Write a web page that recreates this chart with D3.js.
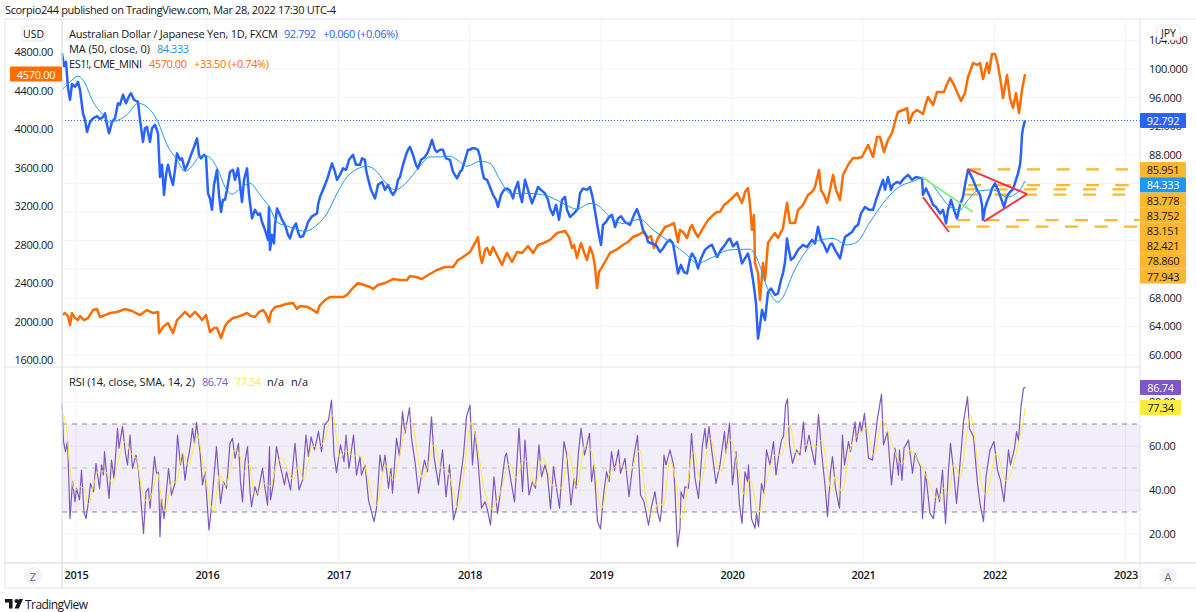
<!DOCTYPE html>
<html>
<head>
<meta charset="utf-8">
<title>AUD/JPY vs ES1!</title>
<script src="https://cdn.jsdelivr.net/npm/d3@7"></script>
<style>
    body { margin: 0; background: #fff; }
    text { font-family: "Open Sans", sans-serif; font-size: 11px; fill: #131722; }
</style>
</head>
<body>
<svg id="chart" width="1196" height="612"></svg>
<script>
// every series is [bar index, value], daily bars counted from the left edge of the chart
const audjpy = [[0,102.2],[4,100.4],[8,101],[12,97.3],[16,95.7],[20,97.9],[26,97.5],[32,98.2],[36,97.1],[42,93.8],[46,92.9],[50,91.2],[56,92.6],[62,93.1],[70,93.4],[76,93],[82,93.3],[86,93.8],[90,92.2],[94,91],[100,92.6],[106,93.1],[112,95.2],[116,95],[122,96.4],[128,95.2],[134,96.2],[138,96.6],[144,95.7],[152,95.4],[156,92.9],[162,89.8],[166,91.7],[170,91.9],[176,89.8],[180,91.7],[186,92.2],[192,91],[196,84.9],[200,86.6],[204,82.4],[208,85.2],[212,86.6],[218,84.7],[222,83.8],[226,85.9],[230,88.2],[236,87.3],[240,87.5],[246,85.9],[252,86.8],[258,88],[262,88.7],[270,90.3],[274,88],[278,87.5],[284,88],[288,87.7],[292,82.6],[296,81.9],[300,80.3],[304,83.8],[310,85.9],[314,82.4],[318,80],[322,81.7],[326,81.7],[330,83.1],[336,85.6],[342,85.9],[346,84.5],[352,86.1],[356,83.8],[360,81.4],[364,84.5],[370,86.1],[374,82.4],[380,79.1],[386,80.3],[392,79.6],[396,79.8],[400,78.6],[406,77.5],[412,76.1],[414,80.7],[416,74.7],[420,76.8],[424,75.6],[426,78.2],[430,80.5],[436,79.6],[440,78.9],[446,78.2],[452,76.8],[456,76.3],[462,77.7],[468,78.4],[472,77.2],[476,76.5],[482,76.6],[488,77.7],[492,78.6],[500,79.4],[510,79.8],[512,81],[516,82.1],[522,83.1],[530,84.5],[536,85.9],[540,86.8],[546,85.6],[550,84.5],[556,85.2],[562,86.1],[568,85.9],[574,87.3],[582,88],[588,86.6],[596,86.6],[600,87.5],[606,87.3],[608,85.9],[612,84.7],[618,83.1],[626,81.9],[632,83.8],[640,84.2],[646,83.1],[652,83.8],[658,82.8],[662,82.4],[668,83.1],[672,84.5],[676,84.9],[682,86.6],[688,88],[692,88.7],[696,89.1],[702,88],[708,86.6],[712,86.1],[718,87.3],[726,87.7],[732,88.4],[740,90.1],[746,88.7],[750,88.4],[756,88.7],[762,88.7],[768,87.5],[776,87.3],[782,85.6],[790,84.7],[796,85.6],[800,85.9],[806,87.3],[812,88.7],[816,88.7],[820,88.9],[826,88.9],[832,88.7],[836,87.7],[840,85.9],[844,84.7],[850,84.5],[856,83.5],[862,82.4],[868,81.7],[872,80.7],[878,82.4],[884,83.1],[890,83.3],[896,83],[902,81.9],[906,83.1],[912,84.2],[916,82.4],[920,81.4],[926,84.5],[932,83.1],[940,81.2],[946,82.3],[952,83.5],[958,83.1],[966,82.6],[972,81.7],[976,80.5],[982,79.6],[988,81],[994,78.9],[1000,81.7],[1006,82.1],[1010,80.3],[1016,79.3],[1024,79.8],[1032,80.5],[1036,82.6],[1042,83.3],[1050,83.1],[1056,83.5],[1060,82.4],[1064,81],[1070,78.4],[1074,76.8],[1078,75.4],[1082,78.2],[1088,78.6],[1094,79.3],[1100,79.6],[1106,77.9],[1112,79.1],[1118,79.4],[1126,78.6],[1136,78.2],[1144,79.6],[1150,80.4],[1156,79.2],[1162,77.5],[1168,76.8],[1172,75.8],[1180,75.6],[1188,75.4],[1196,74.4],[1202,74.9],[1210,75.8],[1216,76.1],[1222,75.6],[1226,74],[1232,71.4],[1238,72.6],[1244,71.6],[1250,71.4],[1256,73.5],[1260,74.2],[1266,73.5],[1272,72.1],[1278,73.5],[1286,74.7],[1294,75.2],[1300,75.4],[1306,74.4],[1310,73.7],[1318,74.7],[1326,75.4],[1332,76.1],[1336,76.3],[1342,75.2],[1350,75.8],[1354,74.7],[1360,72.8],[1366,73.5],[1372,74.2],[1376,73],[1382,70.5],[1386,68.4],[1388,67.2],[1392,62.3],[1396,64.1],[1400,66.3],[1406,64.9],[1412,68.8],[1418,69.3],[1426,68.4],[1432,68.6],[1438,70.5],[1442,71.4],[1446,73],[1450,76.3],[1454,74.6],[1458,73.3],[1464,73.7],[1472,74.7],[1482,75.4],[1490,75.1],[1500,76.1],[1506,75.6],[1512,77.9],[1518,76.1],[1524,75.4],[1530,74.4],[1536,75.4],[1540,75.6],[1546,74.7],[1552,74],[1556,73.5],[1562,75.4],[1566,76.5],[1572,76.8],[1580,77.2],[1586,77.9],[1592,78.2],[1598,79.8],[1606,80.7],[1614,80.3],[1622,80.3],[1628,81.7],[1636,83.3],[1642,84.5],[1646,83.1],[1652,84.9],[1658,83.1],[1662,83.8],[1670,84.2],[1676,84],[1684,84.7],[1692,85.2],[1700,84.5],[1708,84.9],[1720,84.7],[1722,82.4],[1728,83.3],[1736,82.1],[1742,81],[1748,80.7],[1756,79.8],[1762,80.3],[1768,78.4],[1772,80.3],[1778,81.7],[1784,80.3],[1790,79.1],[1796,81],[1802,82.1],[1806,83.8],[1812,85.9],[1816,85.4],[1822,84.5],[1830,83.1],[1836,82.4],[1840,81],[1842,78.9],[1846,80.5],[1850,81.4],[1856,82.4],[1860,83.3],[1866,84],[1872,83.1],[1878,81.9],[1884,80.7],[1890,82.2],[1896,82.8],[1902,83.2],[1908,84.5],[1912,85.4],[1916,86.6],[1918,88.2],[1920,90.8],[1922,91.7],[1926,92.792]];

const ma50 = [[0,97.1],[16,98.2],[32,99],[46,98],[60,95.7],[82,93.6],[96,92.6],[130,93.6],[152,95.2],[170,94.7],[192,92.6],[210,89.4],[230,87.3],[246,85.7],[262,86.6],[276,87.8],[290,87.8],[312,85.9],[326,83.5],[340,82.5],[360,83.5],[376,84],[396,82.4],[416,80.5],[430,78.6],[456,77.9],[486,77.3],[510,78.2],[530,79.8],[550,82.6],[570,84.9],[590,86],[610,86.4],[626,85.9],[646,84.2],[666,83.1],[690,84.2],[712,86.1],[736,87.7],[756,87.7],[776,87.8],[790,87.3],[810,86.4],[836,87.1],[856,86.8],[876,84.5],[896,82.6],[936,82.6],[976,82.1],[1002,81.2],[1030,80.4],[1056,81.2],[1070,81],[1096,79.3],[1122,78.4],[1156,79],[1182,77.5],[1216,75.8],[1250,74],[1270,72.8],[1296,73.5],[1336,74.7],[1376,74.8],[1390,73.5],[1410,69.5],[1432,67.4],[1442,68.1],[1462,71.4],[1490,74.7],[1516,76.1],[1542,76.3],[1570,75.4],[1590,75.8],[1616,78.6],[1642,81.2],[1670,83.3],[1702,84.3],[1720,84.7],[1736,84.2],[1756,82.4],[1776,80.7],[1796,80.3],[1812,81.7],[1830,82.9],[1862,83.1],[1890,82.1],[1912,82.8],[1926,84.333]];

const es1 = [[0,2067],[6,2088],[12,2057],[16,1964],[20,2088],[26,2036],[32,2015],[36,2057],[44,2015],[52,2036],[62,2119],[70,2130],[76,2047],[86,2067],[96,2088],[110,2099],[126,2130],[140,2109],[156,2067],[170,2119],[182,2088],[192,2099],[194,1880],[202,1943],[212,1984],[222,1880],[230,2015],[238,2057],[246,2099],[256,2047],[266,2099],[274,2057],[280,2015],[288,2067],[296,1891],[304,1932],[310,1932],[318,1828],[326,1953],[332,1995],[342,2036],[350,2047],[360,2067],[370,2088],[378,2057],[386,2047],[394,2099],[402,2119],[408,2078],[414,1995],[418,2099],[426,2150],[436,2161],[448,2182],[462,2192],[470,2130],[476,2161],[492,2150],[502,2119],[510,2088],[516,2171],[526,2223],[536,2254],[550,2254],[562,2254],[570,2275],[580,2338],[592,2400],[604,2379],[616,2358],[622,2338],[632,2379],[646,2400],[662,2441],[676,2431],[690,2431],[696,2473],[708,2462],[720,2441],[732,2483],[750,2535],[766,2566],[782,2566],[792,2639],[802,2670],[816,2722],[826,2816],[832,2878],[836,2691],[840,2608],[846,2743],[850,2764],[856,2691],[862,2774],[870,2691],[880,2587],[886,2670],[890,2712],[900,2618],[910,2722],[920,2712],[932,2784],[942,2712],[952,2795],[964,2816],[976,2847],[990,2919],[998,2930],[1006,2940],[1014,2878],[1020,2764],[1024,2795],[1030,2660],[1038,2816],[1044,2722],[1050,2639],[1056,2774],[1062,2691],[1066,2566],[1070,2348],[1074,2514],[1080,2566],[1088,2639],[1096,2712],[1108,2743],[1122,2795],[1132,2826],[1142,2878],[1152,2899],[1162,2930],[1172,2867],[1178,2888],[1184,2764],[1192,2867],[1200,2930],[1206,2982],[1216,3002],[1224,3023],[1232,2826],[1236,2951],[1242,2930],[1250,2867],[1256,2971],[1260,3002],[1266,2930],[1272,2878],[1282,2971],[1292,3054],[1302,3106],[1310,3138],[1316,3138],[1324,3210],[1332,3242],[1342,3293],[1350,3335],[1360,3231],[1366,3345],[1372,3387],[1376,3210],[1380,2951],[1384,3106],[1386,2608],[1392,2504],[1396,2223],[1402,2608],[1406,2431],[1412,2816],[1418,2867],[1426,2919],[1432,2867],[1442,2971],[1446,3106],[1450,3231],[1456,3023],[1466,3023],[1472,3158],[1482,3210],[1492,3314],[1500,3345],[1506,3397],[1514,3574],[1518,3366],[1524,3314],[1530,3231],[1536,3366],[1542,3522],[1548,3366],[1556,3262],[1562,3522],[1572,3626],[1582,3699],[1592,3699],[1600,3709],[1612,3834],[1622,3709],[1630,3917],[1636,3917],[1644,3761],[1652,3886],[1660,3958],[1666,4073],[1672,4177],[1682,4197],[1690,4218],[1694,4062],[1702,4166],[1710,4197],[1722,4156],[1728,4270],[1732,4332],[1742,4249],[1750,4384],[1764,4384],[1770,4468],[1776,4530],[1784,4457],[1790,4384],[1798,4291],[1806,4374],[1812,4540],[1822,4686],[1830,4665],[1836,4686],[1842,4519],[1850,4686],[1854,4582],[1860,4779],[1866,4779],[1872,4665],[1880,4405],[1882,4322],[1890,4561],[1896,4322],[1902,4218],[1908,4374],[1914,4166],[1920,4405],[1926,4570]];

const rsi = [[0,79.4],[3,62],[7,57.4],[11,62],[14,42],[16,27],[21,43.8],[26,34.7],[29,40.8],[35,35.5],[39,49],[44,30],[48,27],[53,34.7],[57,43],[63,39.2],[68,52],[75,40.8],[79,51.4],[83,46.8],[85,57.4],[94,36.2],[99,53.6],[104,45.3],[111,68],[114,59],[121,68.8],[127,56.7],[131,51.4],[136,65],[141,49.8],[148,55.9],[153,49],[156,40.8],[163,20.3],[168,39.2],[173,40.8],[176,31.7],[185,55.2],[189,47.6],[193,48],[196,18.8],[199,36.2],[204,27],[213,49.8],[219,37.7],[223,40.8],[226,43],[231,65],[237,51.4],[241,56.7],[246,44.5],[251,52.9],[256,58.9],[261,68],[265,61.2],[269,70.8],[276,57.4],[281,42.3],[286,48.3],[294,21.8],[298,30.2],[303,43.8],[309,59.7],[317,33.9],[323,43.8],[329,40.8],[336,61.2],[341,63.5],[346,54.4],[353,61.2],[357,43.8],[361,34.7],[366,52.9],[371,59.7],[376,39.2],[379,32.4],[386,41.5],[391,37.7],[401,49.8],[405,42.3],[411,33.2],[415,59.7],[417,35.5],[423,43],[429,59.7],[436,51.4],[445,42.3],[449,48.3],[457,40],[466,61.2],[474,40],[481,44.5],[488,65],[493,55.2],[498,64.2],[505,58.2],[513,66.5],[519,57.4],[525,69.5],[533,71.8],[539,80.9],[544,55.9],[549,48],[557,60.5],[564,52.9],[568,65],[574,49.8],[583,65],[589,46.8],[596,55.2],[599,46.8],[606,51.4],[613,35.5],[624,25.6],[629,31.7],[636,55.9],[641,48.3],[646,55.9],[653,40.8],[658,49.8],[661,38.5],[669,63.5],[675,55.2],[681,75.6],[686,65.8],[695,77.4],[699,63.5],[706,52.9],[713,38.5],[718,45.3],[725,53.6],[731,48.3],[739,73.3],[744,55.2],[753,42.3],[761,58.2],[768,37],[775,51.4],[783,26.4],[789,31.7],[796,43.8],[803,55.9],[809,73.3],[816,78.6],[821,51.4],[826,66.5],[833,50.6],[839,31.7],[846,34.7],[851,30.9],[857,24],[864,46],[871,29.4],[877,39.2],[886,55.2],[889,56.7],[896,46.8],[905,34.7],[914,68],[921,39.2],[926,62.7],[934,37.7],[941,43.8],[947,40.8],[954,60.5],[959,46],[966,51.4],[971,46.8],[977,31.4],[983,50.6],[988,42.3],[995,31.7],[1004,62],[1009,56.7],[1018,33.2],[1024,45.3],[1028,40.8],[1033,57.4],[1038,68],[1045,55.9],[1055,65.8],[1059,43.8],[1064,51.4],[1071,25.6],[1077,22.3],[1083,37.7],[1089,48.3],[1094,43.8],[1099,57.4],[1105,49],[1113,58.2],[1117,47.6],[1126,54.4],[1134,37],[1143,54.4],[1151,64.7],[1157,37.7],[1164,34.7],[1173,24],[1179,32.4],[1186,39.2],[1191,30.2],[1196,25.6],[1199,31],[1204,55.9],[1208,51.4],[1216,58.2],[1223,51.4],[1226,39.2],[1231,14.2],[1236,22.6],[1238,39.2],[1243,36.2],[1246,41.5],[1253,40.8],[1259,65.8],[1266,45.3],[1273,36.2],[1281,60.5],[1286,68],[1289,58.9],[1294,68.8],[1299,58.9],[1308,43],[1316,51.4],[1325,66.5],[1328,56.7],[1335,70.3],[1341,42.3],[1348,57.4],[1355,33.2],[1360,24.8],[1366,48.3],[1371,43.8],[1373,51.4],[1379,27],[1386,22.6],[1389,29.4],[1393,23.3],[1399,43],[1404,38.5],[1409,58.2],[1416,51.4],[1423,62],[1428,46.8],[1433,55.2],[1439,62.7],[1443,64.2],[1447,78.6],[1451,81.4],[1455,60.5],[1461,52.1],[1469,58.2],[1476,55.9],[1483,71],[1487,57.4],[1494,65],[1499,58.9],[1506,51.4],[1513,74.4],[1519,57.4],[1526,42.3],[1531,27.9],[1537,48.3],[1541,55.2],[1547,40.8],[1555,31.7],[1561,65],[1565,51.4],[1573,62],[1577,57.4],[1586,71],[1589,62],[1596,71],[1599,66.5],[1605,74.8],[1613,54.4],[1621,53.6],[1631,72.6],[1639,83.5],[1643,60.5],[1651,66.5],[1659,42.3],[1666,59],[1673,46.8],[1675,58.2],[1680,44.5],[1684,59],[1693,62.7],[1701,47.6],[1706,56.7],[1717,50.6],[1721,27],[1727,48.3],[1736,29.4],[1743,27],[1749,40.8],[1755,34.7],[1761,49],[1767,24.8],[1773,49],[1777,61.2],[1783,49],[1789,33.9],[1799,59.7],[1803,71],[1811,82.4],[1815,68],[1823,64.2],[1831,43],[1836,33.9],[1843,25.6],[1848,46],[1856,58.2],[1864,62],[1871,49],[1877,44.5],[1884,34.7],[1893,58.2],[1897,51.4],[1905,59],[1909,66.5],[1913,62.7],[1918,77.9],[1923,86.2],[1927,86.74]];

const rsiMa = [[0,75.6],[9,68],[16,49.8],[26,40],[36,41.5],[44,40.5],[53,33.5],[63,42.3],[73,48.6],[86,48.6],[101,43],[113,53.6],[126,62],[139,56.2],[149,54.4],[159,40.8],[171,34.4],[181,39.2],[191,47.6],[198,37.7],[206,30.2],[219,43],[229,43.8],[241,56.7],[253,51.4],[263,59],[271,65],[279,56],[286,46.8],[303,30.5],[316,47.6],[326,41.5],[336,48.3],[345,58.2],[354,56.7],[366,48],[374,52],[386,37.7],[406,43],[416,41.5],[429,51.4],[439,54.4],[463,44.5],[473,51],[483,44.5],[501,60],[513,59],[526,63.5],[541,74],[556,54.4],[567,58],[583,55.2],[591,56.2],[606,50.6],[619,37.7],[629,32.9],[646,51.4],[663,44.5],[673,52.9],[683,65],[693,70.3],[701,69.8],[713,52.9],[721,45.3],[733,52],[744,60.5],[759,49.5],[769,49],[783,39.2],[791,31.7],[806,51.4],[818,70.8],[828,63.5],[843,42.3],[858,31.4],[876,38.5],[895,52],[908,45.6],[923,53.6],[933,52],[946,42],[961,54.7],[983,41.5],[999,40.8],[1013,56.7],[1029,41.5],[1046,60.5],[1059,57.4],[1079,31.7],[1096,47.6],[1116,51.4],[1135,48.3],[1156,58.2],[1166,39.2],[1179,28.6],[1193,34],[1203,33.2],[1216,53.6],[1226,46],[1239,26.8],[1263,57.4],[1278,43.8],[1296,63.5],[1316,48],[1337,62.7],[1366,37.7],[1376,45],[1393,29.8],[1413,47.6],[1426,55.9],[1439,55.9],[1455,69.8],[1469,56.7],[1489,60.5],[1509,59.7],[1519,62.7],[1539,40.5],[1548,46.8],[1559,39.2],[1576,58.2],[1596,65.8],[1609,68],[1624,55.9],[1641,72],[1656,63.5],[1679,52],[1696,58],[1719,50.6],[1736,42.3],[1753,35.5],[1763,40.8],[1773,38],[1784,52],[1796,46],[1817,74],[1833,50.6],[1848,37.7],[1869,56.7],[1888,44.2],[1913,61.2],[1927,77.34]];

// hand drawn levels and trend lines on the AUD/JPY pane
const hLevels = [[1812,2132,85.951],[1812,2156,83.778],[1812,2156,83.752],[1806,2126,83.151],[1806,2126,82.421],[1790,2156,78.86],[1770,2150,77.943]];
const redLines = [[[1722,82.08],[1774,77.2]],[[1812,86],[1930,82.5]],[[1930,82.5],[1844,78.7]]];
const greenLine = [[1720,84.9],[1822,80]];

const yearBars = [28,290,553,815,1078,1340,1602,1865,2127];
const yearLabels = ["2015","2016","2017","2018","2019","2020","2021","2022","2023"];
const priceTicks = [104,100,96,92,88,84,80,76,72,68,64,60];
const priceLabelTicks = [104,100,96,92,88,68,64,60]; // the rest sit behind the tag stack
const esTicks = [4800,4400,4000,3600,3200,2800,2400,2000,1600];
const rsiTicks = [80,60,40,20];
const stackLabels = ["85.951","84.333","83.778","83.752","83.151","82.421","78.860","77.943"];

const svg = d3.select("#chart");

const left = 62, right = 1140;
const x = d3.scaleLinear().domain([0, 2156]).range([left, right]);
const yPrice = d3.scaleLinear().domain([60, 100]).range([355, 69]);
const yEs = d3.scaleLinear().domain([1600, 4800]).range([360, 52]);
const yRsi = d3.scaleLinear().domain([20, 80]).range([534, 402]);

const border = "#e0e3eb", grid = "#f0f3fa";

// grid
const gridG = svg.append("g");
gridG.selectAll(".v").data(yearBars).enter().append("line")
    .attr("x1", d => x(d)).attr("x2", d => x(d))
    .attr("y1", 20).attr("y2", 563).attr("stroke", grid);
gridG.selectAll(".h").data(priceTicks).enter().append("line")
    .attr("x1", left).attr("x2", right)
    .attr("y1", d => yPrice(d)).attr("y2", d => yPrice(d)).attr("stroke", grid);
gridG.selectAll(".r").data(rsiTicks).enter().append("line")
    .attr("x1", left).attr("x2", right)
    .attr("y1", d => yRsi(d)).attr("y2", d => yRsi(d)).attr("stroke", grid);

// rsi band
svg.append("rect").attr("x", left).attr("width", right - left)
    .attr("y", yRsi(70)).attr("height", yRsi(30) - yRsi(70))
    .attr("fill", "#7e57c2").attr("fill-opacity", 0.1);
[[70, 0.9], [50, 0.45], [30, 0.9]].forEach(([v, op]) => {
    svg.append("line").attr("x1", left).attr("x2", right)
        .attr("y1", yRsi(v)).attr("y2", yRsi(v))
        .attr("stroke", "#787b86").attr("stroke-opacity", op).attr("stroke-dasharray", "5,5");
});

function drawLine(data, yScale, color, width, curve) {
    const line = d3.line().x(d => x(d[0])).y(d => yScale(d[1]));
    if (curve) line.curve(curve);
    svg.append("path").datum(data)
        .attr("fill", "none").attr("stroke", color)
        .attr("stroke-width", width).attr("stroke-linejoin", "round")
        .attr("d", line);
}

// last price line
svg.append("line").attr("x1", left).attr("x2", right)
    .attr("y1", yPrice(92.792)).attr("y2", yPrice(92.792))
    .attr("stroke", "#2962ff").attr("stroke-dasharray", "1,2");

// horizontal levels
hLevels.forEach(([a, b, v]) => {
    svg.append("line").attr("x1", x(a)).attr("x2", x(b))
        .attr("y1", yPrice(v)).attr("y2", yPrice(v))
        .attr("stroke", "#ffb72b").attr("stroke-width", 2.2).attr("stroke-dasharray", "13,16.5");
});

drawLine(es1, yEs, "#ff6d00", 2.5);
drawLine(audjpy, yPrice, "#2962ff", 2.5);
drawLine(ma50, yPrice, "#2196f3", 1, d3.curveMonotoneX);
drawLine(greenLine, yPrice, "#86ec8a", 1.8);
redLines.forEach(l => drawLine(l, yPrice, "#f23645", 2));

drawLine(rsi, yRsi, "#7e57c2", 1.2);
drawLine(rsiMa, yRsi, "#ffeb3b", 1, d3.curveMonotoneX);

// pane frame
const frame = [[5, 19, 1196, 19], [5, 367, 1140, 367], [5, 563, 1196, 563], [5, 588, 1196, 588], [left, 19, left, 588], [right, 19, right, 588], [5, 19, 5, 588]];
frame.forEach(f => {
    svg.append("line").attr("x1", f[0]).attr("y1", f[1]).attr("x2", f[2]).attr("y2", f[3])
        .attr("stroke", border).attr("stroke-width", f[1] === 563 || f[0] === left ? 1.5 : 1);
});

// axes
function styleAxis(g) {
    g.select(".domain").remove();
    g.selectAll(".tick line").remove();
    g.selectAll("text").attr("fill", "#131722")
        .style("font-size", "11px").style("letter-spacing", "-0.3px");
}
svg.append("g").attr("transform", "translate(56,0)")
    .call(d3.axisLeft(yEs).tickValues(esTicks).tickSize(0).tickFormat(d3.format(".2f")))
    .call(styleAxis);
svg.append("g").attr("transform", "translate(1146,0)")
    .call(d3.axisRight(yPrice).tickValues(priceLabelTicks).tickSize(0).tickFormat(d3.format(".3f")))
    .call(styleAxis);
svg.append("g").attr("transform", "translate(1146,0)")
    .call(d3.axisRight(yRsi).tickValues(rsiTicks).tickSize(0).tickFormat(d3.format(".2f")))
    .call(styleAxis);
svg.append("g").attr("transform", "translate(0,563)")
    .call(d3.axisBottom(x).tickValues(yearBars).tickSize(0).tickPadding(8).tickFormat((d, i) => yearLabels[i]))
    .call(styleAxis)
    .selectAll("text").style("font-weight", 600);

function label(xPos, y, str, color, opts = {}) {
    const t = svg.append("text").attr("x", xPos).attr("y", y).text(str)
        .style("fill", color).style("font-size", opts.size || "11px")
        .attr("text-anchor", opts.anchor || "start")
        .attr("dominant-baseline", "central");
    if (opts.len) t.attr("textLength", opts.len).attr("lengthAdjust", "spacing");
    if (opts.spacing) t.style("letter-spacing", opts.spacing);
    return t;
}

function priceTag(x0, w, cy, h, fill, str, color) {
    svg.append("rect").attr("x", x0).attr("y", cy - h / 2).attr("width", w).attr("height", h)
        .attr("rx", 1).attr("fill", fill);
    label(x0 + w / 2, cy, str, color, { anchor: "middle", spacing: "-0.3px" });
}

// tags on the axes
priceTag(10, 52, 74, 15, "#ff6d00", "4570.00", "#fff");
priceTag(1140, 46, 120.5, 15, "#2962ff", "92.792", "#fff");
const stackTop = 162;
stackLabels.forEach((s, i) => {
    const sky = s === "84.333";
    priceTag(1140, 46, stackTop + 7.6 + i * 15.2, 15.2, sky ? "#2196f3" : "#ffb82e", s, sky ? "#fff" : "#131722");
});
priceTag(1140, 41, 387.5, 15, "#7e57c2", "86.74", "#fff");
priceTag(1140, 41, 407.5, 15, "#ffeb3b", "77.34", "#131722");

// unit boxes
[[22, 26, 23, "USD"], [1157, 25, 23, "JPY"]].forEach(([bx, by, w, s]) => {
    svg.append("rect").attr("x", bx).attr("y", by).attr("width", w).attr("height", 15).attr("rx", 3)
        .attr("fill", "#fff").attr("stroke", border);
    label(bx + w / 2, by + 7.5, s, "#131722", { anchor: "middle", size: "10.5px" });
});

// Z and A buttons
[[33, "Z"], [1168, "A"]].forEach(([cx, s]) => {
    svg.append("circle").attr("cx", cx).attr("cy", 576).attr("r", 9).attr("fill", "#f0f3fa");
    label(cx, 576, s, "#6a6d78", { anchor: "middle", size: "11px" });
});

// header and legends, lengths
const dark = "#131722", blue = "#2962ff", orange = "#ff6d00", purple = "#7e57c2";
label(5, 9, "Scorpio244 published on TradingView.com, Mar 28, 2022 17:30 UTC-4", dark, { len: 331 });
label(69, 33, "Australian Dollar / Japanese Yen, 1D, FXCM", dark, { len: 209 });
label(284, 33, "92.792", blue, { len: 32 });
label(323, 33, "+0.060 (+0.06%)", blue, { len: 75 });
label(69, 48, "MA (50, close, 0)", dark, { len: 81 });
label(157, 48, "84.333", "#2196f3", { len: 32 });
label(69, 63, "ES1!, CME_MINI", dark, { len: 73 });
label(149, 63, "4570.00", orange, { len: 38 });
label(194, 63, "+33.50 (+0.74%)", orange, { len: 75 });
label(69, 381.5, "RSI (14, close, SMA, 14, 2)", dark, { len: 126 });
label(202, 381.5, "86.74", purple, { len: 26 });
label(235, 381.5, "77.34", "#ffeb3b", { len: 26 });
label(267, 381.5, "n/a", dark, { len: 17 });
label(291, 381.5, "n/a", dark, { len: 17 });

// logo
svg.append("path").attr("fill", dark)
    .attr("d", "M5 599h7.5v9.5h-3.5v-6h-4z M16.5 599a2 2 0 1 1 0 4a2 2 0 1 1 0-4z M19 599h4l-4.2 9.5h-4.2z");
label(25, 604, "TradingView", dark, { size: "12px", len: 63 });
</script>
</body>
</html>
